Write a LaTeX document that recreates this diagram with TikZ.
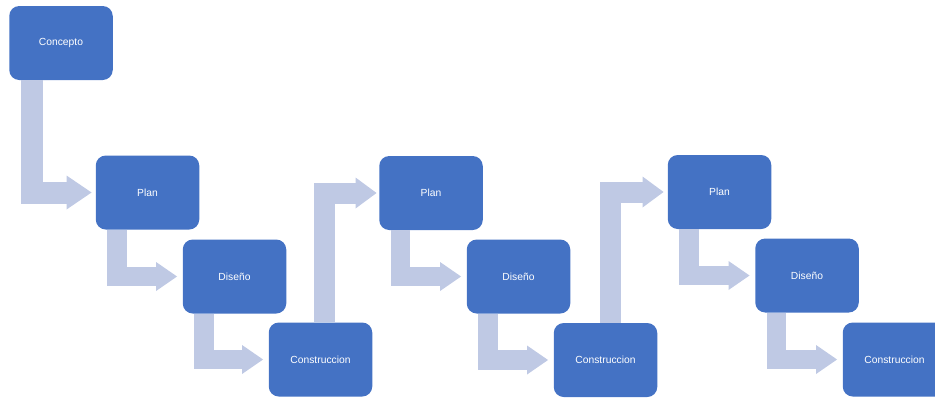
\documentclass[tikz,border=0pt]{standalone}
\usepackage{fontspec}
\newfontfamily\boxfont{Liberation Sans}
\usetikzlibrary{arrows.meta,calc}
\definecolor{boxblue}{RGB}{68,114,196}
\definecolor{arrowtint}{RGB}{191,201,228}
\begin{document}
\begin{tikzpicture}[x=1pt,y=-1pt,
  stage/.style={fill=boxblue, rounded corners=10pt, minimum width=103.5pt,
    minimum height=74pt, inner sep=0pt, text=white,
    font=\boxfont\fontsize{10.3}{12}\selectfont},
  bigbend/.style={draw=arrowtint, line width=22pt, line join=miter,
    -{Triangle[width=34pt,length=25pt,line width=0pt]}},
  stepbend/.style={draw=arrowtint, line width=19.5pt, line join=miter,
    -{Triangle[width=29pt,length=21pt,line width=0pt]}},
  risebend/.style={draw=arrowtint, line width=21pt, line join=miter,
    -{Triangle[width=31pt,length=21pt,line width=0pt]}}]
\path[use as bounding box, clip] (0,0) rectangle (935,397);

% stages
\node[stage] (c)  at (61,43)      {Concepto};
\node[stage] (p1) at (147.5,192.5) {Plan};
\node[stage] (d1) at (234.5,276.5) {Diseño};
\node[stage] (k1) at (320.5,359.5) {Construccion};
\node[stage] (p2) at (431,193)     {Plan};
\node[stage] (d2) at (518.5,276.5) {Diseño};
\node[stage] (k2) at (605.5,360)   {Construccion};
\node[stage] (p3) at (719.5,192)   {Plan};
\node[stage] (d3) at (807,275.5)   {Diseño};
\node[stage] (k3) at (894.5,359.5) {Construccion};

% bent block arrows
\draw[bigbend]  ($(c.south west)+(22.5,0)$)  |- ($(p1.west)+(-4,0)$);
\draw[stepbend] ($(p1.south west)+(21.5,0)$) |- ($(d1.west)+(-5.5,0)$);
\draw[stepbend] ($(d1.south west)+(21.5,0)$) |- ($(k1.west)+(-5.5,0)$);
\draw[risebend] ($(k1.north)+(3.5,0)$)       |- ($(p2.west)+(-2.5,0)$);
\draw[stepbend] ($(p2.south west)+(21.5,0)$) |- ($(d2.west)+(-5.5,0)$);
\draw[stepbend] ($(d2.south west)+(21.5,0)$) |- ($(k2.west)+(-5.5,0)$);
\draw[risebend] ($(k2.north)+(5,0)$)         |- ($(p3.west)+(-4,0)$);
\draw[stepbend] ($(p3.south west)+(21.5,0)$) |- ($(d3.west)+(-5.5,0)$);
\draw[stepbend] ($(d3.south west)+(21.5,0)$) |- ($(k3.west)+(-5.5,0)$);
\end{tikzpicture}
\end{document}
